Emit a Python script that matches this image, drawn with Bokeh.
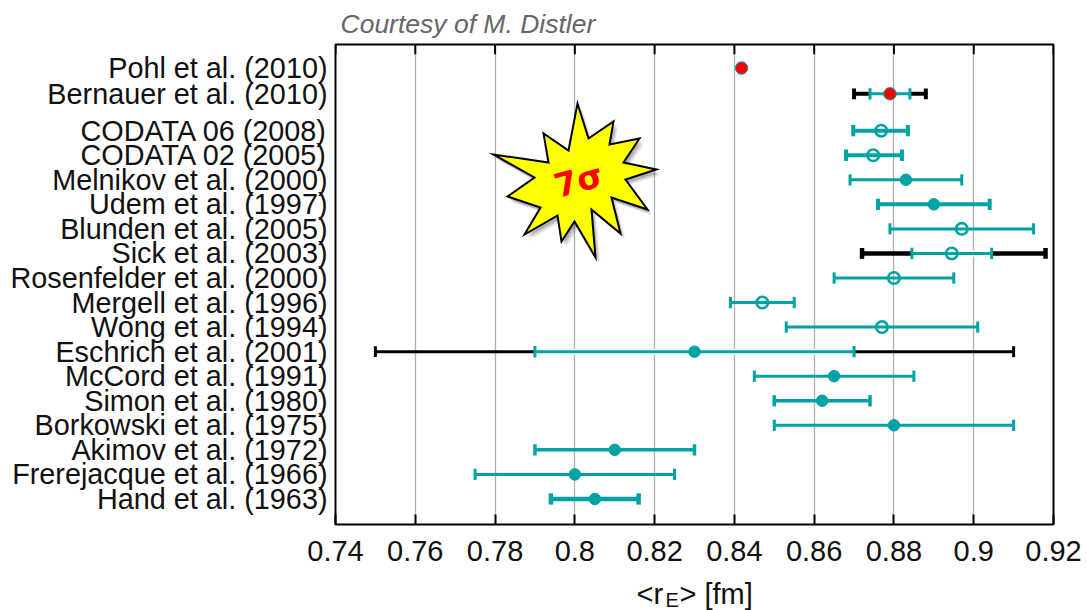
from bokeh.plotting import figure
from bokeh.layouts import column
from bokeh.models import FixedTicker, Range1d, Title
from bokeh.core.properties import value
from bokeh.embed import file_html
from bokeh.resources import INLINE

# --- data ------------------------------------------------------------------
names = ["Hand et al. (1963)", "Frerejacque et al. (1966)", "Akimov et al. (1972)",
         "Borkowski et al. (1975)", "Simon et al. (1980)", "McCord et al. (1991)",
         "Eschrich et al. (2001)", "Wong et al. (1994)", "Mergell et al. (1996)",
         "Rosenfelder et al. (2000)", "Sick et al. (2003)", "Blunden et al. (2005)",
         "Udem et al. (1997)", "Melnikov et al. (2000)", "CODATA 02 (2005)",
         "CODATA 06 (2008)", "Bernauer et al. (2010)", "Pohl et al. (2010)"]
rows = [1, 2, 3, 4, 5, 6, 7, 8, 9, 10, 11, 12, 13, 14, 15, 16, 17.5, 18.55]
radius = [0.805, 0.800, 0.810, 0.880, 0.862, 0.865, 0.830, 0.877, 0.847, 0.880,
          0.8945, 0.897, 0.890, 0.883, 0.8748, 0.8768, 0.879, 0.8418]
low = [0.794, 0.775, 0.790, 0.850, 0.850, 0.845, 0.790, 0.853, 0.839, 0.865,
       0.8845, 0.879, 0.876, 0.869, 0.868, 0.8698, 0.874, None]
high = [0.816, 0.825, 0.830, 0.910, 0.874, 0.885, 0.870, 0.901, 0.855, 0.895,
        0.9045, 0.915, 0.904, 0.897, 0.882, 0.8835, 0.884, None]
width_px = [4.5, 3, 3.5, 3, 3.5, 3, 3, 3, 3, 3, 3, 3, 4, 3, 4, 4, 3, 0]
kind = ["filled", "filled", "filled", "filled", "filled", "filled", "filled", "open",
        "open", "open", "open", "open", "filled", "filled", "open", "open", "red", "red"]
# wider (black) error bars: row, low, high, line width
black_rows = [7, 11, 17.5, 18.55]
black_low = [0.750, 0.872, 0.870, 0.8412]
black_high = [0.910, 0.918, 0.888, 0.8424]
black_width = [3, 4.5, 4, 2]

x_ticks = [0.74, 0.76, 0.78, 0.80, 0.82, 0.84, 0.86, 0.88, 0.90, 0.92]
x_tick_labels = ["0.74", "0.76", "0.78", "0.8", "0.82", "0.84", "0.86", "0.88", "0.9", "0.92"]
TEAL = "#00a3a3"

# 7-sigma burst outline, picture pixels
burst_px = [(577, 103), (588, 138), (613, 121), (609, 144), (639, 138), (623, 162),
            (656, 169), (625, 179), (647, 209), (611, 197), (620, 233), (591, 209),
            (595, 257), (574, 221), (561, 241), (557, 215), (524, 234), (540, 207),
            (507, 196), (534, 177), (493, 154), (548, 162), (543, 133), (568, 150)]

# --- figure ------------------------------------------------------------------
LEFT, TOP, FW, FH = 335, 44, 718, 480
W, H, STRIP = 1087, 610, 42
YMIN, YMAX = -0.04, 19.51
p = figure(width=W, height=H - STRIP, output_backend="svg", toolbar_location=None,
           x_range=Range1d(0.74, 0.92), y_range=Range1d(YMIN, YMAX),
           min_border_left=LEFT, min_border_top=TOP, min_border_right=W - LEFT - FW,
           min_border_bottom=H - STRIP - TOP - FH, frame_width=FW, frame_height=FH,
           background_fill_color="white", border_fill_color="white")
p.outline_line_color = "black"
p.outline_line_width = 2
p.outline_line_alpha = 1

px2x = lambda v: 0.74 + (v - LEFT) / FW * 0.18
px2y = lambda v: YMIN + (TOP + FH - v) / FH * (YMAX - YMIN)

# axes
xa = p.xaxis[0]
xa.ticker = FixedTicker(ticks=x_ticks)
xa.major_label_overrides = dict(zip(x_ticks, x_tick_labels))
xa.major_tick_in, xa.major_tick_out = 10, 0
xa.major_tick_line_color = "black"
xa.major_tick_line_width = 2
xa.minor_tick_line_color = None
xa.axis_line_color = None
xa.major_label_text_font = "Liberation Sans"
xa.major_label_text_font_size = "29px"
xa.major_label_text_color = "#111111"
xa.major_label_standoff = 16

ya = p.yaxis[0]
ya.ticker = FixedTicker(ticks=rows)
ya.major_label_overrides = dict(zip(rows, names))
ya.major_tick_in, ya.major_tick_out = 0, 0
ya.major_tick_line_color = None
ya.minor_tick_line_color = None
ya.axis_line_color = None
ya.major_label_text_font = "Liberation Sans"
ya.major_label_text_font_size = "28.8px"
ya.major_label_text_color = "#111111"
ya.major_label_standoff = 8

p.xgrid.ticker = FixedTicker(ticks=x_ticks)
p.xgrid.grid_line_color = "#b0b0b0"
p.xgrid.grid_line_width = 1.3
p.ygrid.grid_line_color = None

# credit line above the frame
p.add_layout(Title(text="Courtesy of M. Distler", align="left", offset=5, standoff=12,
                   text_font="Liberation Sans", text_font_size="26.5px",
                   text_font_style="italic", text_color="#666666"), "above")

# ticks on the top edge
p.segment(x_ticks, [YMAX] * len(x_ticks), x_ticks, [YMAX - 0.4] * len(x_ticks),
          line_color="black", line_width=2)

# black outer error bars
for r, a, b, w in zip(black_rows, black_low, black_high, black_width):
    p.segment([a], [r], [b], [r], line_color="black", line_width=w)
    p.segment([a, b], [r - 0.22, r - 0.22], [a, b], [r + 0.22, r + 0.22], line_color="black", line_width=w)

# teal error bars (with a white gap over a black bar)
for r, a, b, w in zip(rows, low, high, width_px):
    if a is None:
        continue
    if r in black_rows:
        p.segment([a], [r], [b], [r], line_color="white", line_width=6)
    p.segment([a], [r], [b], [r], line_color=TEAL, line_width=w)
    p.segment([a, b], [r - 0.23, r - 0.23], [a, b], [r + 0.23, r + 0.23], line_color=TEAL, line_width=w)

# centre points
fx = [x for x, k in zip(radius, kind) if k == "filled"]
fy = [y for y, k in zip(rows, kind) if k == "filled"]
ox = [x for x, k in zip(radius, kind) if k == "open"]
oy = [y for y, k in zip(rows, kind) if k == "open"]
rx = [x for x, k in zip(radius, kind) if k == "red"]
ry = [y for y, k in zip(rows, kind) if k == "red"]
p.scatter(fx, fy, size=11.5, marker="circle", fill_color=TEAL, line_color=TEAL, line_width=1)
p.scatter(ox, oy, size=11.5, marker="circle", fill_color="white", fill_alpha=0, line_color=TEAL, line_width=2.6)
p.scatter(rx, ry, size=12.5, marker="circle", fill_color="#ff0000", line_color=TEAL, line_width=1)

# burst with a soft drop shadow
bx = [px2x(a) for a, _ in burst_px]
by = [px2y(b) for _, b in burst_px]
for off, alpha in ((6, 0.05), (5, 0.07), (4, 0.1), (3, 0.12)):
    p.patch([px2x(a + off - 1) for a, _ in burst_px], [px2y(b + off) for _, b in burst_px],
            fill_color="black", fill_alpha=alpha, line_color=None)
p.patch(bx, by, fill_color="#ffff00", line_color="black", line_width=2, line_join="miter")
p.text([px2x(578)], [px2y(180)], text=["7σ"], text_color="#ff0000", angle=0.27,
       text_font=value("DejaVu Sans"), text_font_style="bold", text_font_size="33px",
       text_align="center", text_baseline="middle")

# axis title with its subscript, in a strip under the chart; the column lines its frame up with the chart's
q = figure(width=W, height=STRIP, output_backend="svg", toolbar_location=None,
           x_range=Range1d(LEFT, LEFT + FW), y_range=Range1d(H, H - STRIP),
           x_axis_location=None, y_axis_location=None,
           frame_width=FW, frame_height=STRIP,
           min_border=0, min_border_left=LEFT, min_border_right=W - LEFT - FW,
           outline_line_color=None, border_fill_color="white",
           background_fill_color="white")
q.grid.visible = False
for text, x, y, size in (("<r", 636, 593, "29px"), ("E", 665, 599, "20px"), ("> [fm]", 679, 593, "29px")):
    q.text([x], [y], text=[text], text_font=value("Liberation Sans"), text_font_size=size,
           text_color="#111111", text_baseline="alphabetic", text_align="left")

open("out.html", "w").write(file_html(column(p, q, spacing=0), INLINE))
